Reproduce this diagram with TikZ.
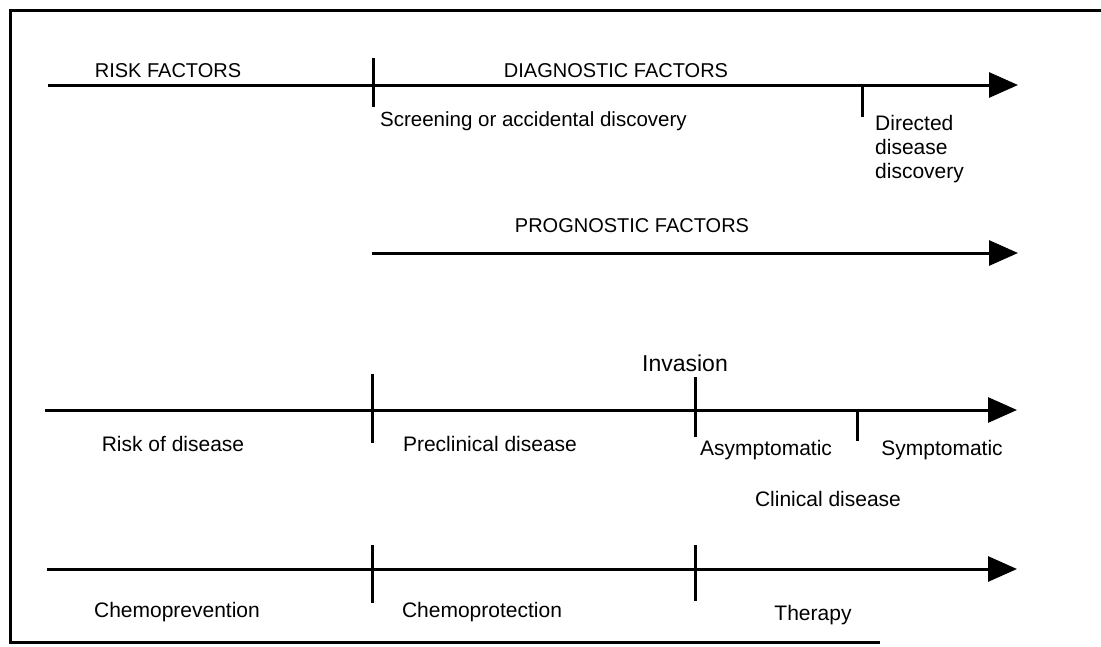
\documentclass[tikz,border=0pt]{standalone}
\usepackage{fontspec}
\setmainfont{Liberation Sans}
\usetikzlibrary{arrows.meta}
\begin{document}
\begin{tikzpicture}[x=1pt,y=-1pt,
  axis/.style={line width=3pt,-{Triangle[length=29pt,width=25pt]}},
  tickline/.style={line width=3pt},
  frame/.style={line width=3pt},
  lbl/.style={inner sep=0pt,font=\fontsize{21}{24}\selectfont},
  caplbl/.style={inner sep=0pt,font=\fontsize{20}{24}\selectfont},
  biglbl/.style={inner sep=0pt,font=\fontsize{23}{27}\selectfont}]
\useasboundingbox (0,0) rectangle (1101,646);

% frame (open on the right)
\coordinate (fTR) at (1101,10);
\coordinate (fTL) at (10,10);
\coordinate (fBL) at (10,642);
\coordinate (fBR) at (880,642);
\draw[frame] (fTR) -- (fTL) -- (fBL) -- (fBR);

% row 1: risk / diagnostic factors
\coordinate (r1s) at (48,85);
\coordinate (r1e) at (1018,85);
\draw[axis] (r1s) -- (r1e);
\coordinate (t1a) at (373,58);
\coordinate (t1b) at (373,107);
\draw[tickline] (t1a) -- (t1b);
\coordinate (t2a) at (862,85);
\coordinate (t2b) at (862,117);
\draw[tickline] (t2a) -- (t2b);
\node[caplbl] (riskf) at (168,71) {RISK FACTORS};
\node[caplbl] (diagf) at (616,71) {DIAGNOSTIC FACTORS};
\node[inner sep=0pt,font=\fontsize{20.5}{24}\selectfont,anchor=west] (screen) at (380,121) {Screening or accidental discovery};
\node[lbl,anchor=west,align=left] (directed) at (875,149) {Directed\\disease\\discovery};

% row 2: prognostic factors
\coordinate (r2s) at (372,253);
\coordinate (r2e) at (1018,253);
\draw[axis] (r2s) -- (r2e);
\node[caplbl] (progf) at (632,226) {PROGNOSTIC FACTORS};

% row 3: disease course
\coordinate (r3s) at (45,410);
\coordinate (r3e) at (1017,410);
\draw[axis] (r3s) -- (r3e);
\coordinate (t3a) at (372,374);
\coordinate (t3b) at (372,443);
\draw[tickline] (t3a) -- (t3b);
\coordinate (t4a) at (695,377);
\coordinate (t4b) at (695,437);
\draw[tickline] (t4a) -- (t4b);
\coordinate (t5a) at (857,410);
\coordinate (t5b) at (857,441);
\draw[tickline] (t5a) -- (t5b);
\node[biglbl] (inv) at (685,363) {Invasion};
\node[lbl] (riskd) at (173,444) {Risk of disease};
\node[lbl] (precl) at (490,444) {Preclinical disease};
\node[lbl] (asym) at (766,450) {Asymptomatic};
\node[lbl] (sym) at (942,450) {Symptomatic};
\node[lbl] (clin) at (828,499) {Clinical disease};

% row 4: interventions
\coordinate (r4s) at (47,569);
\coordinate (r4e) at (1017,569);
\draw[axis] (r4s) -- (r4e);
\coordinate (t6a) at (372,545);
\coordinate (t6b) at (372,603);
\draw[tickline] (t6a) -- (t6b);
\coordinate (t7a) at (695,545);
\coordinate (t7b) at (695,601);
\draw[tickline] (t7a) -- (t7b);
\node[lbl] (cprev) at (177,612) {Chemoprevention};
\node[lbl] (cprot) at (482,612) {Chemoprotection};
\node[lbl] (ther) at (813,615) {Therapy};
\end{tikzpicture}
\end{document}
